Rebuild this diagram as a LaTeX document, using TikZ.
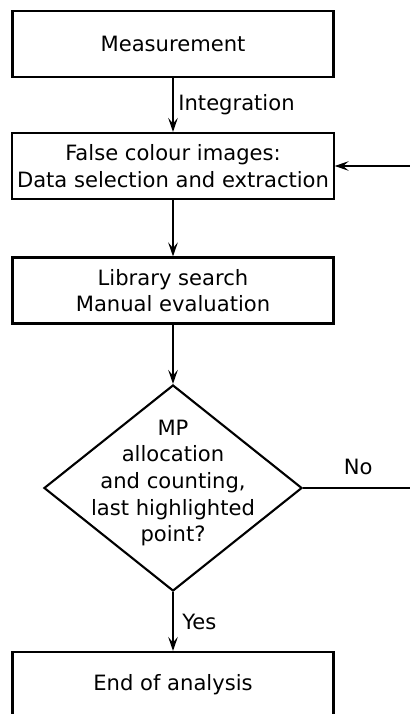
\documentclass[tikz,border=0pt]{standalone}
\usepackage{fontspec}
\setmainfont{DejaVu Sans}
\usetikzlibrary{shapes.geometric,arrows.meta}

\begin{document}
\begin{tikzpicture}[x=0.025cm, y=-0.025cm,
    box/.style={draw, line width=1.5pt, minimum width=8.025cm, minimum height=1.65cm, align=center, font=\fontsize{15}{19}\selectfont},
    decision/.style={draw, diamond, line width=1.5pt, minimum width=6.45cm, minimum height=5.15cm, inner sep=0pt},
    flow/.style={line width=1pt, -{Stealth[length=3.5mm, width=2.4mm, inset=1.4mm]}},
    lbl/.style={font=\fontsize{15}{19}\selectfont}]

    \useasboundingbox (0,0) rectangle (409,714);

    \node [box] (measure) at (173,44) {Measurement};
    \node [box] (select) at (173,166) {False colour images:\\Data selection and extraction};
    \node [box] (search) at (173,290.5) {Library search\\Manual evaluation};
    \node [decision] (check) at (173,488) {};
    \node [lbl, align=center] (checktext) at (173,483) {MP\\allocation\\and counting,\\last highlighted\\point?};
    \node [box] (final) at (173,685) {End of analysis};

    \coordinate (loop) at ([xshift=2.75cm]check.east);

    \draw [flow] (measure) -- node [lbl, right] {Integration} (select);
    \draw [flow] (select) -- (search);
    \draw [flow] (search) -- (check.north);
    \draw [flow] (check.south) -- node [lbl, right=0.1cm] {Yes} (final);
    \draw [flow] (check.east) -- node [lbl, above=0.2cm] {No} (loop) |- (select.east);

\end{tikzpicture}
\end{document}
